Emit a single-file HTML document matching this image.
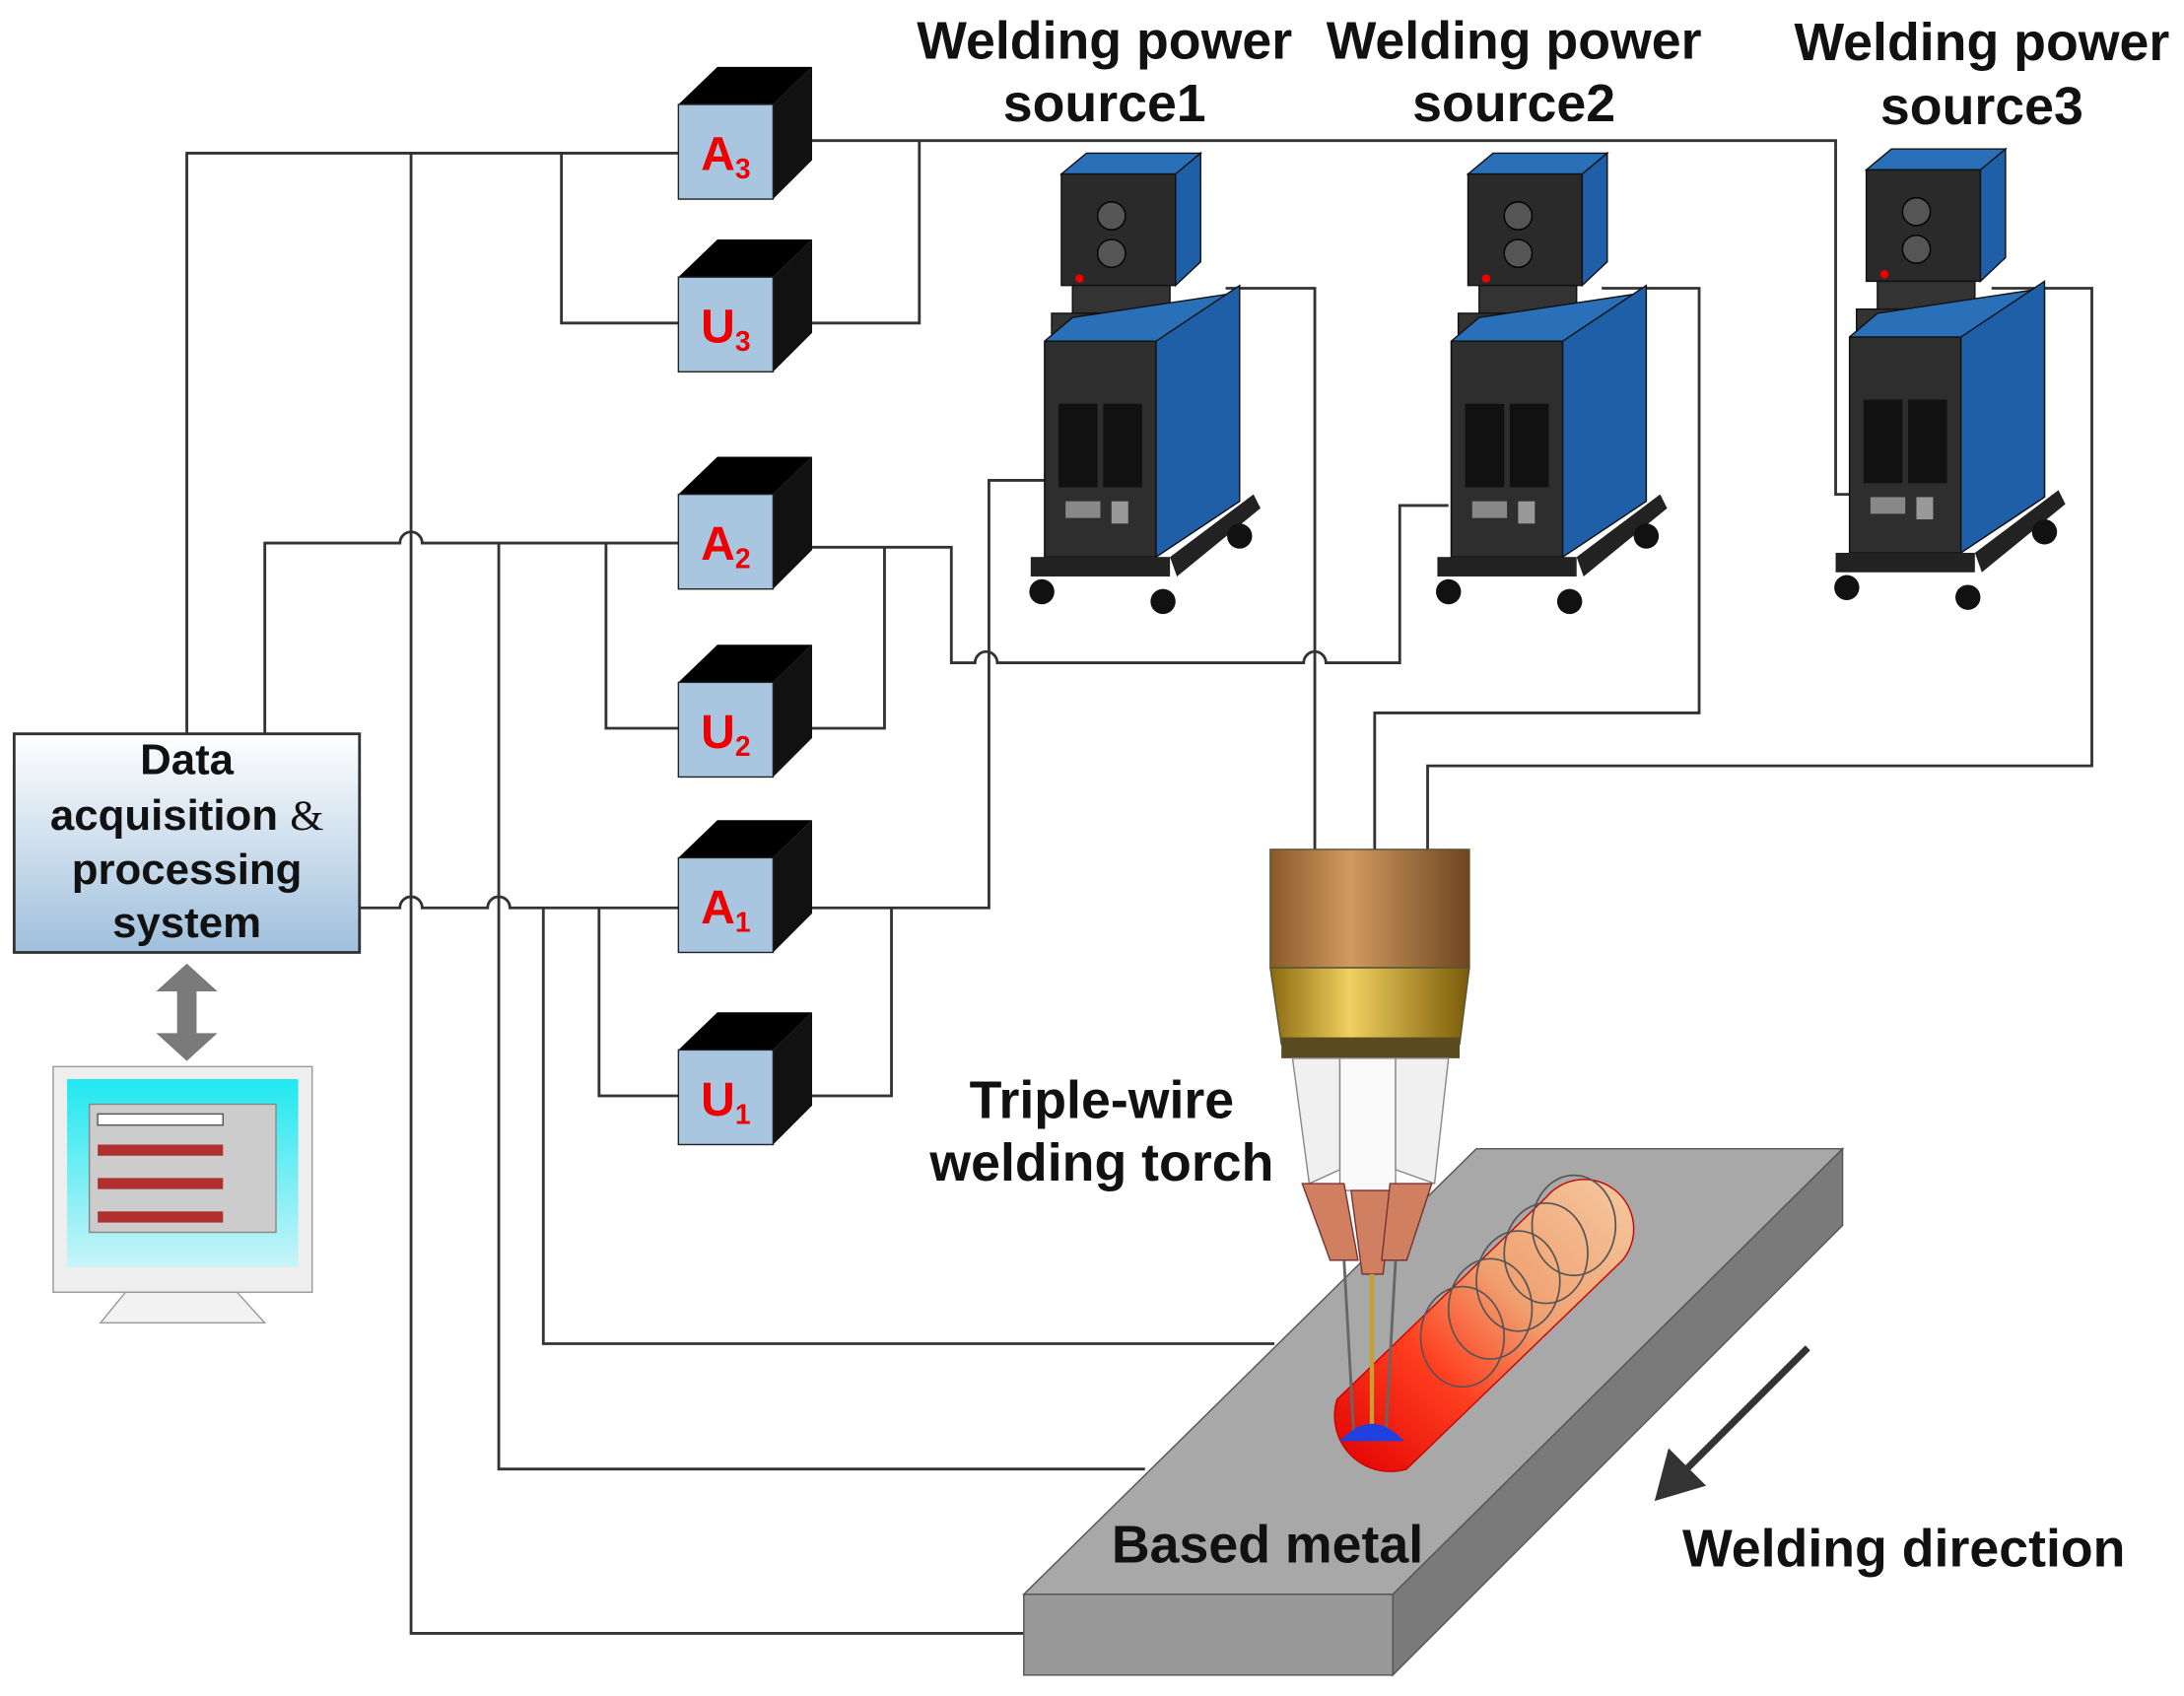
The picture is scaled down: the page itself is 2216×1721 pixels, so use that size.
<!DOCTYPE html>
<html><head><meta charset="utf-8"><style>
html,body{margin:0;padding:0;background:#fff}
svg{display:block}
text{font-family:"Liberation Sans",Arial,sans-serif;font-weight:bold}
</style></head><body>
<svg width="2216" height="1721" viewBox="0 0 1568 1218" xmlns="http://www.w3.org/2000/svg">
<defs>
<linearGradient id="dg" x1="0" y1="0" x2="0" y2="1"><stop offset="0" stop-color="#ffffff"/><stop offset="1" stop-color="#9fbfdc"/></linearGradient>
<linearGradient id="cu" x1="0" y1="0" x2="1" y2="0"><stop offset="0" stop-color="#8a5a2a"/><stop offset="0.4" stop-color="#d09a60"/><stop offset="1" stop-color="#6e4520"/></linearGradient>
<linearGradient id="au" x1="0" y1="0" x2="1" y2="0"><stop offset="0" stop-color="#8a6a10"/><stop offset="0.4" stop-color="#f0d060"/><stop offset="1" stop-color="#7a5a08"/></linearGradient>
<linearGradient id="bead" x1="0" y1="1" x2="1" y2="0"><stop offset="0" stop-color="#e00000"/><stop offset="0.35" stop-color="#ff4020"/><stop offset="0.6" stop-color="#f0a070"/><stop offset="1" stop-color="#f5c9a0"/></linearGradient>
<linearGradient id="scr" x1="0" y1="0" x2="0" y2="1"><stop offset="0" stop-color="#20e8f0"/><stop offset="1" stop-color="#c8f4f8"/></linearGradient>
</defs>

<g fill="none" stroke="#333" stroke-width="2">
<path d="M134 527 V110 H487"/>
<path d="M403 110 V232 H487"/>
<path d="M583 232 H660 V101"/>
<path d="M583 101 H1318 V355 H1332"/>
<path d="M295 110 V1173 H735"/>
<path d="M190 527 V390 H287 a8 8 0 0 1 16 0 H487"/>
<path d="M358 390 V1055 H822"/>
<path d="M435 390 V523 H487"/>
<path d="M583 393 H683 V476 H700 a8 8 0 0 1 16 0 H936 a8 8 0 0 1 16 0 H1005 V363 H1040"/>
<path d="M583 523 H635 V393"/>
<path d="M258 652 H287 a8 8 0 0 1 16 0 H350 a8 8 0 0 1 16 0 H487"/>
<path d="M390 652 V965 H915"/>
<path d="M430 652 V787 H487"/>
<path d="M583 652 H710 V345 H762"/>
<path d="M583 787 H640 V652"/>
<path d="M880 207 H944 V610"/>
<path d="M1150 207 H1220 V512 H987 V610"/>
<path d="M1430 207 H1502 V550 H1025 V610"/>
</g>

<g id="boxes">
<g transform="translate(0,48)"><polygon points="487,27 515,0 583,0 555,27" fill="#000"/><polygon points="555,27 583,0 583,67 555,95" fill="#111"/><rect x="487" y="27" width="68" height="68" fill="#a9c6e0" stroke="#222"/><text x="521" y="74" font-size="34" fill="#e00" text-anchor="middle">A<tspan font-size="20" dy="6">3</tspan></text></g>
<g transform="translate(0,172)"><polygon points="487,27 515,0 583,0 555,27" fill="#000"/><polygon points="555,27 583,0 583,67 555,95" fill="#111"/><rect x="487" y="27" width="68" height="68" fill="#a9c6e0" stroke="#222"/><text x="521" y="74" font-size="34" fill="#e00" text-anchor="middle">U<tspan font-size="20" dy="6">3</tspan></text></g>
<g transform="translate(0,328)"><polygon points="487,27 515,0 583,0 555,27" fill="#000"/><polygon points="555,27 583,0 583,67 555,95" fill="#111"/><rect x="487" y="27" width="68" height="68" fill="#a9c6e0" stroke="#222"/><text x="521" y="74" font-size="34" fill="#e00" text-anchor="middle">A<tspan font-size="20" dy="6">2</tspan></text></g>
<g transform="translate(0,463)"><polygon points="487,27 515,0 583,0 555,27" fill="#000"/><polygon points="555,27 583,0 583,67 555,95" fill="#111"/><rect x="487" y="27" width="68" height="68" fill="#a9c6e0" stroke="#222"/><text x="521" y="74" font-size="34" fill="#e00" text-anchor="middle">U<tspan font-size="20" dy="6">2</tspan></text></g>
<g transform="translate(0,589)"><polygon points="487,27 515,0 583,0 555,27" fill="#000"/><polygon points="555,27 583,0 583,67 555,95" fill="#111"/><rect x="487" y="27" width="68" height="68" fill="#a9c6e0" stroke="#222"/><text x="521" y="74" font-size="34" fill="#e00" text-anchor="middle">A<tspan font-size="20" dy="6">1</tspan></text></g>
<g transform="translate(0,727)"><polygon points="487,27 515,0 583,0 555,27" fill="#000"/><polygon points="555,27 583,0 583,67 555,95" fill="#111"/><rect x="487" y="27" width="68" height="68" fill="#a9c6e0" stroke="#222"/><text x="521" y="74" font-size="34" fill="#e00" text-anchor="middle">U<tspan font-size="20" dy="6">1</tspan></text></g>
</g>

<g id="ps">
<g transform="translate(740,110)">
<polygon points="22,15 40,0 122,0 104,15" fill="#2a70b8" stroke="#111"/>
<rect x="22" y="15" width="82" height="80" fill="#2a2a2a" stroke="#111"/>
<polygon points="104,15 122,0 122,78 104,95" fill="#1f5fa8" stroke="#111"/>
<circle cx="58" cy="45" r="10" fill="#555" stroke="#000"/><circle cx="58" cy="72" r="10" fill="#555" stroke="#000"/><circle cx="35" cy="90" r="3" fill="#e00"/>
<rect x="30" y="95" width="70" height="20" fill="#333" stroke="#111"/>
<rect x="15" y="115" width="130" height="15" fill="#333" stroke="#111"/>
<polygon points="10,135 30,118 150,100 150,250 90,290 10,290" fill="#2a70b8" stroke="#111"/>
<rect x="10" y="135" width="80" height="155" fill="#2e2e2e" stroke="#111"/>
<polygon points="90,135 150,95 150,250 90,290" fill="#1f5fa8" stroke="#111"/>
<rect x="20" y="180" width="28" height="60" fill="#111"/><rect x="52" y="180" width="28" height="60" fill="#111"/>
<rect x="25" y="250" width="25" height="12" fill="#888"/><rect x="58" y="250" width="12" height="16" fill="#999"/>
<rect x="0" y="290" width="100" height="14" fill="#222"/><polygon points="100,290 160,245 165,255 105,304" fill="#222"/>
<circle cx="8" cy="315" r="9" fill="#111"/><circle cx="95" cy="322" r="9" fill="#111"/><circle cx="150" cy="275" r="9" fill="#111"/>
</g>
<g transform="translate(1032,110)">
<polygon points="22,15 40,0 122,0 104,15" fill="#2a70b8" stroke="#111"/>
<rect x="22" y="15" width="82" height="80" fill="#2a2a2a" stroke="#111"/>
<polygon points="104,15 122,0 122,78 104,95" fill="#1f5fa8" stroke="#111"/>
<circle cx="58" cy="45" r="10" fill="#555" stroke="#000"/><circle cx="58" cy="72" r="10" fill="#555" stroke="#000"/><circle cx="35" cy="90" r="3" fill="#e00"/>
<rect x="30" y="95" width="70" height="20" fill="#333" stroke="#111"/>
<rect x="15" y="115" width="130" height="15" fill="#333" stroke="#111"/>
<polygon points="10,135 30,118 150,100 150,250 90,290 10,290" fill="#2a70b8" stroke="#111"/>
<rect x="10" y="135" width="80" height="155" fill="#2e2e2e" stroke="#111"/>
<polygon points="90,135 150,95 150,250 90,290" fill="#1f5fa8" stroke="#111"/>
<rect x="20" y="180" width="28" height="60" fill="#111"/><rect x="52" y="180" width="28" height="60" fill="#111"/>
<rect x="25" y="250" width="25" height="12" fill="#888"/><rect x="58" y="250" width="12" height="16" fill="#999"/>
<rect x="0" y="290" width="100" height="14" fill="#222"/><polygon points="100,290 160,245 165,255 105,304" fill="#222"/>
<circle cx="8" cy="315" r="9" fill="#111"/><circle cx="95" cy="322" r="9" fill="#111"/><circle cx="150" cy="275" r="9" fill="#111"/>
</g>
<g transform="translate(1318,107)">
<polygon points="22,15 40,0 122,0 104,15" fill="#2a70b8" stroke="#111"/>
<rect x="22" y="15" width="82" height="80" fill="#2a2a2a" stroke="#111"/>
<polygon points="104,15 122,0 122,78 104,95" fill="#1f5fa8" stroke="#111"/>
<circle cx="58" cy="45" r="10" fill="#555" stroke="#000"/><circle cx="58" cy="72" r="10" fill="#555" stroke="#000"/><circle cx="35" cy="90" r="3" fill="#e00"/>
<rect x="30" y="95" width="70" height="20" fill="#333" stroke="#111"/>
<rect x="15" y="115" width="130" height="15" fill="#333" stroke="#111"/>
<polygon points="10,135 30,118 150,100 150,250 90,290 10,290" fill="#2a70b8" stroke="#111"/>
<rect x="10" y="135" width="80" height="155" fill="#2e2e2e" stroke="#111"/>
<polygon points="90,135 150,95 150,250 90,290" fill="#1f5fa8" stroke="#111"/>
<rect x="20" y="180" width="28" height="60" fill="#111"/><rect x="52" y="180" width="28" height="60" fill="#111"/>
<rect x="25" y="250" width="25" height="12" fill="#888"/><rect x="58" y="250" width="12" height="16" fill="#999"/>
<rect x="0" y="290" width="100" height="14" fill="#222"/><polygon points="100,290 160,245 165,255 105,304" fill="#222"/>
<circle cx="8" cy="315" r="9" fill="#111"/><circle cx="95" cy="322" r="9" fill="#111"/><circle cx="150" cy="275" r="9" fill="#111"/>
</g>
</g>

<polygon points="735,1145 1000,1145 1323,825 1060,825" fill="#a8a8a8" stroke="#555"/>
<rect x="735" y="1145" width="265" height="58" fill="#999" stroke="#555"/>
<polygon points="1000,1145 1323,825 1323,880 1000,1203" fill="#7a7a7a" stroke="#555"/>
<path d="M960 1005 L1110 860 A30 30 0 0 1 1165 905 L1010 1055 A40 40 0 0 1 960 1005 Z" fill="url(#bead)" stroke="#c00" stroke-width="1"/>
<g fill="none" stroke="#555" stroke-width="1.2">
<ellipse cx="1130" cy="880" rx="30" ry="36"/><ellipse cx="1110" cy="900" rx="30" ry="36"/><ellipse cx="1090" cy="920" rx="30" ry="36"/><ellipse cx="1070" cy="940" rx="30" ry="36"/><ellipse cx="1050" cy="960" rx="30" ry="36"/>
</g>
<rect x="912" y="610" width="143" height="85" fill="url(#cu)" stroke="#553"/>
<polygon points="912,695 1055,695 1048,750 920,750" fill="url(#au)" stroke="#553"/>
<rect x="920" y="745" width="128" height="15" fill="#5a4a20"/>
<polygon points="928,760 962,760 962,840 940,850" fill="#f0f0f0" stroke="#888"/>
<rect x="962" y="760" width="40" height="95" fill="#fafafa" stroke="#888"/>
<polygon points="1002,760 1040,760 1030,850 1002,840" fill="#f0f0f0" stroke="#888"/>
<polygon points="935,850 965,850 975,905 955,905" fill="#d08060" stroke="#733"/>
<polygon points="970,855 1000,855 993,915 978,915" fill="#d08060" stroke="#733"/>
<polygon points="998,850 1028,850 1010,905 992,905" fill="#d08060" stroke="#733"/>
<g stroke="#666" stroke-width="2"><line x1="965" y1="905" x2="972" y2="1030"/><line x1="985" y1="915" x2="985" y2="1030"/><line x1="1002" y1="905" x2="995" y2="1030"/></g>
<line x1="985" y1="915" x2="985" y2="1030" stroke="#c8a030" stroke-width="3"/>
<path d="M962 1035 Q985 1010 1008 1035 Z" fill="#2040e0"/>

<line x1="1298" y1="968" x2="1205" y2="1061" stroke="#333" stroke-width="5"/>
<polygon points="1188,1078 1198,1040 1225,1067" fill="#333"/>

<rect x="10" y="527" width="248" height="157" fill="url(#dg)" stroke="#333" stroke-width="2"/>
<g font-size="31" text-anchor="middle" fill="#111">
<text x="134" y="556">Data</text>
<text x="134" y="596">acquisition <tspan font-family="Liberation Serif" font-weight="normal">&amp;</tspan></text>
<text x="134" y="635">processing</text>
<text x="134" y="673">system</text>
</g>
<polygon points="134,692 156,712 141,712 141,742 156,742 134,762 112,742 127,742 127,712 112,712" fill="#7a7a7a"/>
<rect x="38" y="766" width="186" height="162" fill="#eee" stroke="#999"/>
<rect x="48" y="775" width="166" height="135" fill="url(#scr)"/>
<rect x="64" y="793" width="134" height="92" fill="#ccc" stroke="#888"/>
<rect x="70" y="800" width="90" height="8" fill="#fff" stroke="#555"/>
<rect x="70" y="822" width="90" height="8" fill="#b03030"/><rect x="70" y="846" width="90" height="8" fill="#b03030"/><rect x="70" y="870" width="90" height="8" fill="#b03030"/>
<polygon points="90,928 170,928 190,950 72,950" fill="#f2f2f2" stroke="#999"/>

<g font-size="38" text-anchor="middle" fill="#111">
<text x="793" y="42">Welding power</text><text x="793" y="87">source1</text>
<text x="1087" y="42">Welding power</text><text x="1087" y="87">source2</text>
<text x="1423" y="43">Welding power</text><text x="1423" y="89">source3</text>
<text x="791" y="803">Triple-wire</text><text x="791" y="848">welding torch</text>
<text x="910" y="1122">Based metal</text>
<text x="1367" y="1125">Welding direction</text>
</g>
</svg>
</body></html>
